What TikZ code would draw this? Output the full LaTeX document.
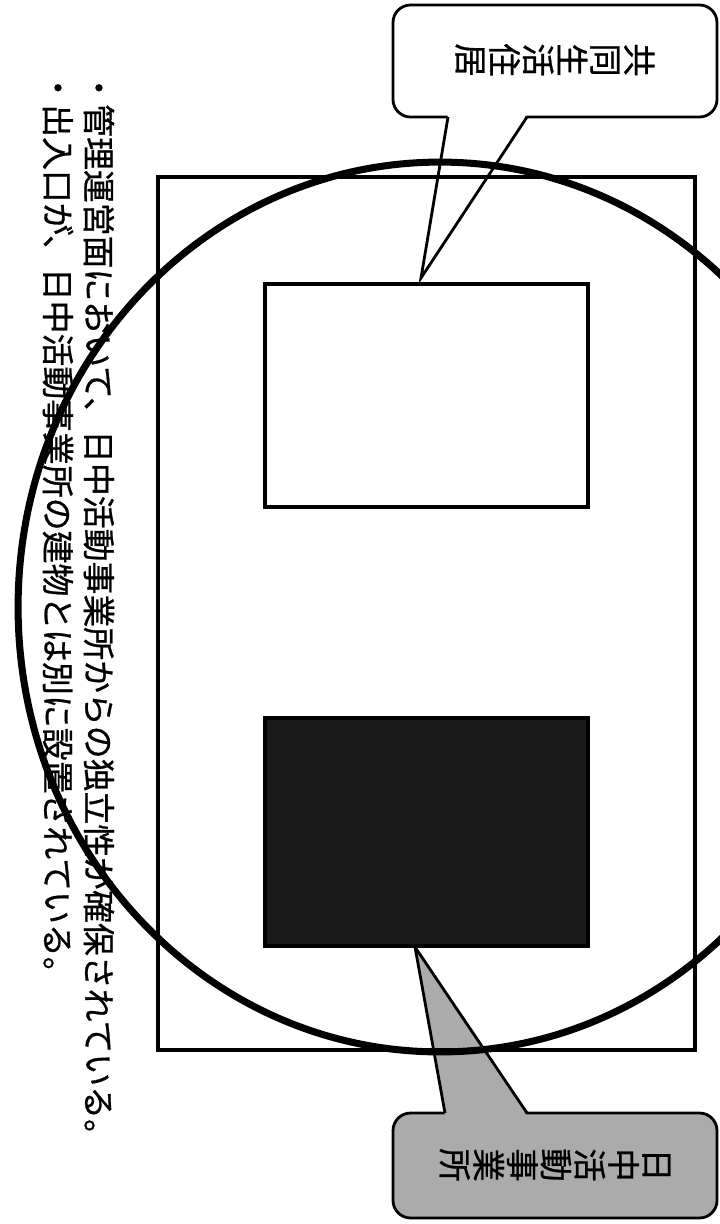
\documentclass[tikz,border=0pt]{standalone}
\usepackage{fontspec}
\setmainfont{Noto Sans CJK JP}[FakeBold=0.8]
\colorlet{calloutgray}{black!33}
\begin{document}
\begin{tikzpicture}[x=0.02cm,y=-0.02cm,
    frame/.style={draw,line width=1.8pt},
    ring/.style={draw,line width=4pt},
    callout/.style={draw,line width=1.6pt,line join=miter}]

        \useasboundingbox (0,0) rectangle (720,1224);

        \coordinate (hometip)   at (421,278);
        \coordinate (officetip) at (415,947);

        \draw[callout,fill=white,rounded corners=10pt] (393,5) rectangle (717,117);
        \fill[white] (448,114) -- (hometip) -- (527,114) -- cycle;
        \draw[callout] (448,117) -- (hometip) -- (527,117);

        \draw[callout,fill=calloutgray,rounded corners=10pt] (393,1113) rectangle (717,1218);
        \fill[calloutgray] (445,1116) -- (officetip) -- (527,1116) -- cycle;
        \draw[callout] (445,1113) -- (officetip) -- (527,1113);

        \begin{scope}[every node/.style={rotate=-90,align=center,inner sep=0pt,
            font=\fontsize{19}{19.2}\selectfont}]
          \node (homelabel)   at (555,60)   {共\\同\\生\\活\\住\\居};
          \node (officelabel) at (555,1165) {日\\中\\活\\動\\事\\業\\所};
        \end{scope}

        \begin{scope}[every node/.style={rotate=-90,anchor=west,inner sep=0pt,
            font=\fontsize{18.7}{20}\selectfont}]
          \node (note1) at (99,71) {・管理運営面において、日中活動事業所からの独立性が確保されている。};
          \node (note2) at (58,71) {・出入口が、日中活動事業所の建物とは別に設置されている。};
        \end{scope}

        \draw[frame] (158,177) rectangle (695,1050);
        \draw[frame,fill=white] (265,284) rectangle (588,507);
        \draw[frame,fill=black!90] (265,718) rectangle (588,946);

        \draw[ring] (440,607) ellipse [x radius=8.44cm, y radius=8.9cm];

      \end{tikzpicture}
\end{document}
